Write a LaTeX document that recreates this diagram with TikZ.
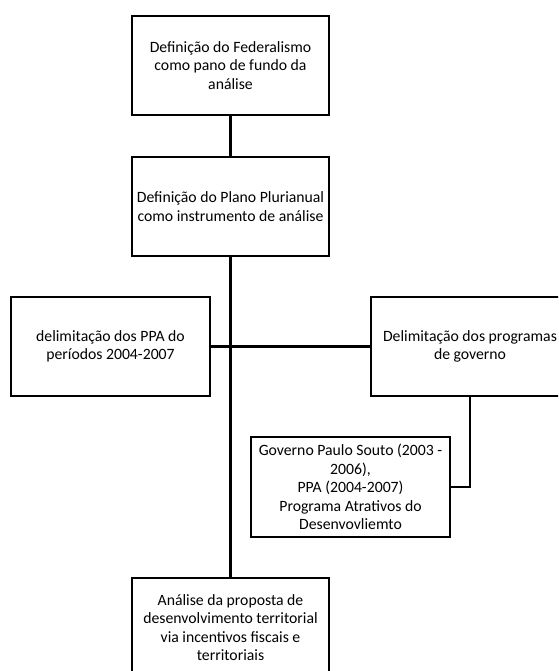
\documentclass[tikz,border=0pt]{standalone}
\usepackage{fontspec}
\setmainfont{Carlito}
\begin{document}
\begin{tikzpicture}[x=0.75pt,y=-0.75pt,
  boxnode/.style={draw=black,line width=1.6pt,fill=white,align=center,
    minimum width=148pt,minimum height=74pt,inner sep=2pt,
    font=\fontsize{11.8pt}{13.9pt}\selectfont},
  link/.style={line width=1.6pt,draw=black}]
\useasboundingbox (0,0) rectangle (558,671);
\clip (0,0) rectangle (558,671);
\node[boxnode] (fed) at (230.5,65.5) {Definição do Federalismo\\como pano de fundo da\\análise};
\node[boxnode] (ppa) at (230.5,206.5) {Definição do Plano Plurianual\\como instrumento de análise};
\node[boxnode,minimum width=149pt] (lim) at (110.5,346.5) {delimitação dos PPA do\\períodos 2004-2007};
\node[boxnode] (prog) at (470,346.5) {Delimitação dos programas\\de governo};
\node[boxnode,minimum width=149pt,minimum height=75pt] (gov) at (350.5,487) {Governo Paulo Souto (2003 -\\2006),\\PPA (2004-2007)\\Programa Atrativos do\\Desenvovliemto};
\node[boxnode] (ana) at (230.5,627.5) {Análise da proposta de\\desenvolvimento territorial\\via incentivos fiscais e\\territoriais};
\draw[link] (fed.south) -- (ppa.north);
\draw[link] (ppa.south) -- (ana.north);
\draw[link] (lim.east) -- (prog.west);
\draw[link] (prog.south) |- (gov.east);
\end{tikzpicture}
\end{document}
